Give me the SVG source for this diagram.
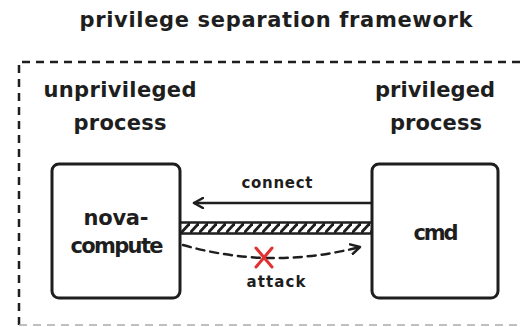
<svg xmlns="http://www.w3.org/2000/svg" width="521" height="327" viewBox="0 0 521 327">
<style>
text{font-family:"DejaVu Sans","Liberation Sans",sans-serif;font-weight:bold;fill:#1e1e1e;text-anchor:middle}
.t{font-size:21px}
.l{font-size:21px}
.s{font-size:15px}
.box{fill:#fff;stroke:#1e1e1e;stroke-width:3}
.ln{stroke:#1e1e1e;stroke-width:2.5;fill:none;stroke-linecap:round}
</style>
<defs>
<pattern id="hatch" patternUnits="userSpaceOnUse" width="9" height="10" patternTransform="translate(181,223)">
<line x1="-1" y1="11" x2="10" y2="-1" stroke="#1e1e1e" stroke-width="2.8"/>
</pattern>
<marker id="ah" viewBox="0 0 12 12" refX="10" refY="6" markerWidth="12" markerHeight="12" markerUnits="userSpaceOnUse" orient="auto">
<path d="M1,1 L10,6 L1,11" fill="none" stroke="#1e1e1e" stroke-width="2.5" stroke-linecap="round" stroke-linejoin="round"/>
</marker>
</defs>
<rect width="521" height="327" fill="#fff"/>
<g id="frame">
<path d="M19,325 L19,62 L521,62" fill="none" stroke="#1e1e1e" stroke-width="2.5" stroke-dasharray="8,6"/>
<line x1="19" y1="325" x2="521" y2="325" stroke="#aaa" stroke-width="1.5" stroke-dasharray="8,6"/>
</g>
<g id="title"><text class="t" x="276" y="27" textLength="393">privilege separation framework</text></g>
<g id="label-unprivileged"><text class="l" x="120" y="97" textLength="153">unprivileged</text><text class="l" x="120" y="130" textLength="93">process</text></g>
<g id="label-privileged"><text class="l" x="435" y="97" textLength="120">privileged</text><text class="l" x="436" y="130" textLength="92">process</text></g>
<g id="connectors">
<line class="ln" x1="372" y1="203" x2="194" y2="203" marker-end="url(#ah)"/>
<text class="s" x="277" y="188" textLength="71">connect</text>
<rect x="181" y="223" width="191" height="10" fill="url(#hatch)"/>
<line class="ln" x1="181" y1="222.5" x2="372" y2="222.5"/>
<line class="ln" x1="181" y1="233.5" x2="372" y2="233.5"/>
<path class="ln" d="M183,245 Q270,270 360,247" stroke-dasharray="8,6" marker-end="url(#ah)"/>
<g stroke="#e03131" stroke-width="3" stroke-linecap="round">
<line x1="256" y1="248" x2="272" y2="267"/>
<line x1="272" y1="248" x2="256" y2="267"/>
</g>
<text class="s" x="276" y="287" textLength="59">attack</text>
</g>
<g id="nova-compute">
<rect class="box" x="52" y="164" width="128" height="134" rx="7"/>
<text class="l" x="116" y="225" textLength="65">nova-</text>
<text class="l" x="117" y="253" textLength="93">compute</text>
</g>
<g id="cmd">
<rect class="box" x="372" y="164" width="126" height="134" rx="7"/>
<text class="l" x="436" y="240" textLength="45">cmd</text>
</g>
</svg>
